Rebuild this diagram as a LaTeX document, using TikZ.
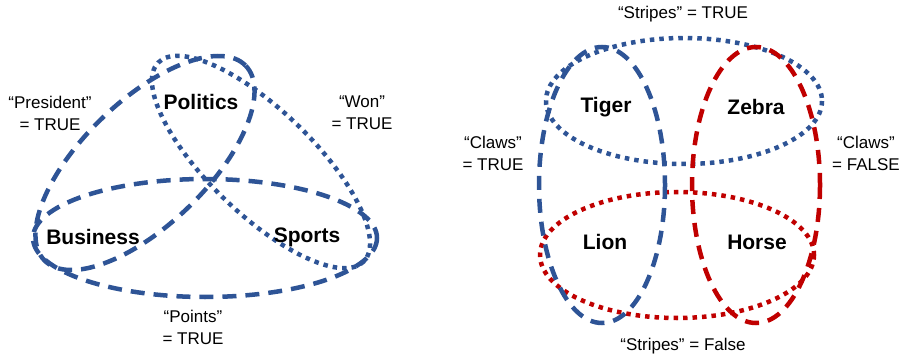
\documentclass[tikz,border=0pt]{standalone}
\usepackage{fontspec}
\setmainfont{Liberation Sans}
\definecolor{setblue}{RGB}{46,84,150}
\definecolor{setred}{RGB}{192,0,0}
\tikzstyle{dashloop}=[line width=4.5pt, dash pattern=on 14pt off 9pt]
\tikzstyle{dotloop}=[line width=4.5pt, dash pattern=on 4.5pt off 5pt]
\tikzstyle{setname}=[font=\fontsize{21}{25}\selectfont\bfseries]
\tikzstyle{cond}=[font=\fontsize{17}{22}\selectfont, align=center]

\begin{document}
\begin{tikzpicture}[x=1pt, y=-1pt]
    \useasboundingbox (0,0) rectangle (901,355);
    % news topics
    \draw[dashloop, setblue, rotate around={44:(145,163)}] (145,163) ellipse [x radius=140, y radius=62];
    \draw[dotloop, setblue, rotate around={-44:(261,162)}] (261,162) ellipse [x radius=143, y radius=52];
    \draw[dashloop, setblue] (205,238) ellipse [x radius=172, y radius=59];
    \node[setname] (politics) at (201,102) {Politics};
    \node[setname] (business) at (93,237) {Business};
    \node[setname] (sports) at (307,237) {Sports};
    \node[cond] (president) at (50,113) {“President”\\= TRUE};
    \node[cond] (won) at (362,113) {“Won”\\= TRUE};
    \node[cond] (points) at (193,327) {“Points”\\= TRUE};
    % animals
    \draw[dotloop, setblue] (684,101) ellipse [x radius=138, y radius=63];
    \draw[dotloop, setred] (677,255) ellipse [x radius=137, y radius=63];
    \draw[dashloop, setblue] (602,185) ellipse [x radius=63, y radius=138];
    \draw[dashloop, setred] (756,185) ellipse [x radius=64, y radius=138];
    \node[setname] (tiger) at (606,107) {Tiger};
    \node[setname] (zebra) at (756,107) {Zebra};
    \node[setname] (lion) at (605,242) {Lion};
    \node[setname] (horse) at (757,242) {Horse};
    \node[cond] (stripesT) at (683,14) {“Stripes” = TRUE};
    \node[cond] (stripesF) at (683,346) {“Stripes” = False};
    \node[cond] (clawsT) at (493,153) {“Claws”\\= TRUE};
    \node[cond] (clawsF) at (866,153) {“Claws”\\= FALSE};
\end{tikzpicture}
\end{document}
